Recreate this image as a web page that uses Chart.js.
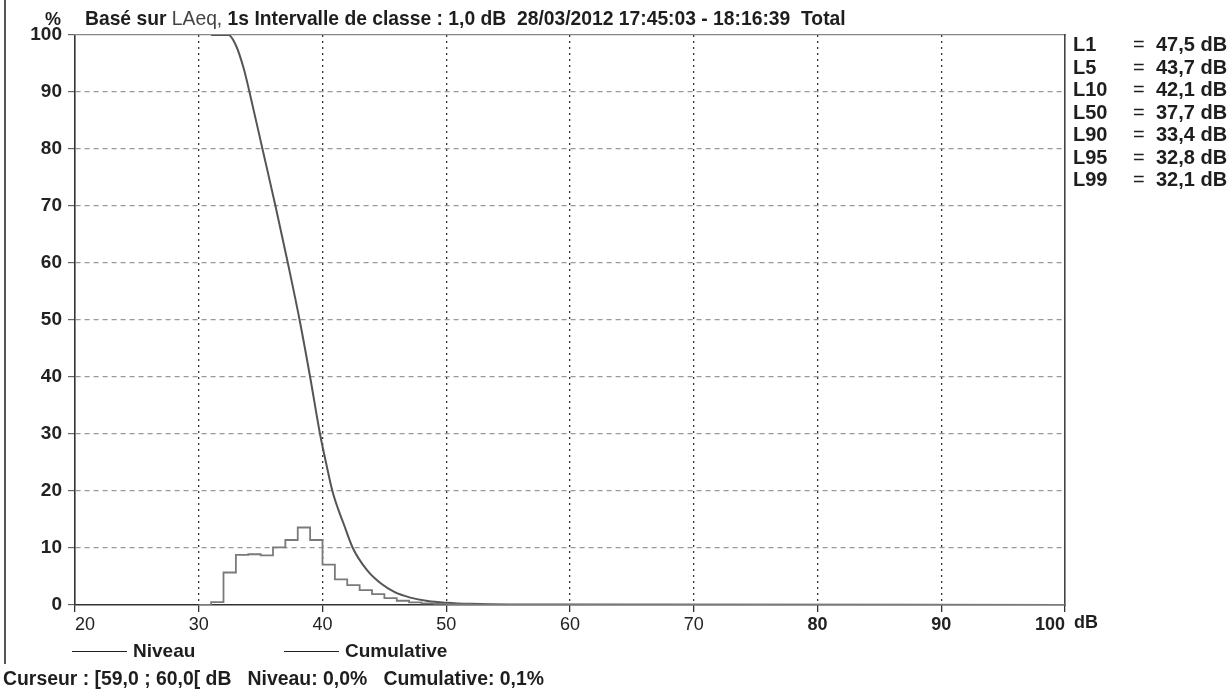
<!DOCTYPE html>
<html lang="fr">
<head>
<meta charset="utf-8">
<title>Distribution statistique LAeq</title>
<script src="https://cdn.jsdelivr.net/npm/chart.js@4.4.1/dist/chart.umd.min.js"></script>
<style>
  body { margin: 0; background: #fff; font-family: "Liberation Sans", Arial, sans-serif; }
  #cadre { position: relative; width: 1229px; height: 692px; overflow: hidden; background: #fff; }
  #grafica { position: absolute; left: 0; top: 0; }
  #bordeIzq { position: absolute; left: 4px; top: 0; width: 2px; height: 664px; background: #555; }
  .txt { position: absolute; white-space: nowrap; color: #1e1e1e; font-weight: bold; line-height: 1; }
  .fino { font-weight: normal; color: #444; }
  #pct { left: 45px; top: 10px; font-size: 18px; }
  #titulo { left: 85px; top: 9px; font-size: 19.3px; }
  #unidad { left: 1074px; top: 613px; font-size: 18px; }
  #cursor { left: 3px; top: 669px; font-size: 19.4px; }
  .fila { position: absolute; left: 0; height: 22px; font-size: 20px; font-weight: bold; color: #1e1e1e; line-height: 22px; }
  .fila span { position: absolute; top: 0; white-space: nowrap; }
  .ley { position: absolute; top: 641px; font-size: 19px; font-weight: bold; color: #1e1e1e; white-space: nowrap; line-height: 19px; }
  .ley i { display: inline-block; width: 55px; height: 0; border-top: 1.5px solid #222; vertical-align: middle; margin-right: 6px; }
</style>
</head>
<body>
<div id="cadre">
  <canvas id="grafica" width="1229" height="692"></canvas>
  <div id="bordeIzq"></div>
  <div class="txt" id="pct">%</div>
  <div class="txt" id="titulo">Basé sur <span class="fino">LAeq,</span> 1s Intervalle de classe : 1,0 dB&nbsp; 28/03/2012 17:45:03 - 18:16:39&nbsp; Total</div>
  <div id="estadisticas"></div>
  <div class="txt" id="unidad">dB</div>
  <div id="leyenda"></div>
  <div class="txt" id="cursor">Curseur : [59,0 ; 60,0[ dB&nbsp;&nbsp; Niveau: 0,0%&nbsp;&nbsp; Cumulative: 0,1%</div>
</div>
<script>
// Datos
const series = ['Niveau', 'Cumulative'];

// Histograma por clase de 1 dB (inicio de clase, %)
const clases = [30, 31, 32, 33, 34, 35, 36, 37, 38, 39, 40, 41, 42, 43, 44, 45, 46, 47, 48, 49, 50, 51, 52, 53, 100];
const niveau = [0, 0.5, 5.7, 8.8, 8.9, 8.7, 10.1, 11.4, 13.6, 11.4, 7.1, 4.5, 3.5, 2.6, 1.9, 1.2, 0.75, 0.45, 0.3, 0.2, 0.1, 0.1, 0.05, 0, 0];

// Curva acumulada (dB, %)
const dbCumul = [31, 32.4, 33, 33.65, 34.1, 35.15, 36.2, 37.2, 38.15, 39.0, 39.8, 40.3, 40.8, 41.25, 41.7, 42.45, 43.6, 44.7, 45.8, 47.1, 48.5, 50, 52, 55, 60, 100];
const pctCumul = [100, 100, 98.2, 94, 90, 80, 70, 60, 50, 40, 30, 24.8, 20, 16.9, 14.3, 10, 6.1, 3.8, 2.3, 1.3, 0.7, 0.4, 0.2, 0.1, 0.1, 0];

// Indices statistiques
const indicesL = ['L1', 'L5', 'L10', 'L50', 'L90', 'L95', 'L99'];
const valoresL = [47.5, 43.7, 42.1, 37.7, 33.4, 32.8, 32.1];

const ticksX = [20, 30, 40, 50, 60, 70, 80, 90, 100];
const ticksY = [0, 10, 20, 30, 40, 50, 60, 70, 80, 90, 100];

let grafica = null;

// Tabla de índices a la derecha
function crearEstadisticas() {
    const cont = document.getElementById('estadisticas');
    indicesL.forEach((nombre, i) => {
        const fila = document.createElement('div');
        fila.className = 'fila';
        fila.style.top = (33 + i * 22.5) + 'px';
        const valor = valoresL[i].toFixed(1).replace('.', ',') + ' dB';
        fila.innerHTML = `<span style="left:1073px">${nombre}</span>` +
            `<span style="left:1133px;font-weight:normal">=</span>` +
            `<span style="left:1156px">${valor}</span>`;
        cont.appendChild(fila);
    });
}

// Leyenda inferior
function crearLeyenda() {
    const cont = document.getElementById('leyenda');
    const posiciones = [72, 284];
    series.forEach((nombre, i) => {
        const el = document.createElement('div');
        el.className = 'ley';
        el.style.left = posiciones[i] + 'px';
        el.innerHTML = `<i></i>${nombre}`;
        cont.appendChild(el);
    });
}

// Crear la gráfica
function crearGrafica() {
    const ctx = document.getElementById('grafica').getContext('2d');

    if (grafica) {
        grafica.destroy();
    }

    grafica = new Chart(ctx, {
        type: 'line',
        data: {
            datasets: [{
                label: series[0],
                data: clases.map((c, i) => ({ x: c, y: niveau[i] })),
                stepped: 'before',
                borderColor: '#7a7a7a',
                borderWidth: 1.8,
                pointRadius: 0,
                fill: false
            }, {
                label: series[1],
                data: dbCumul.map((d, i) => ({ x: d, y: pctCumul[i] })),
                cubicInterpolationMode: 'monotone',
                borderColor: '#555',
                borderWidth: 2,
                pointRadius: 0,
                fill: false
            }]
        },
        options: {
            responsive: false,
            animation: false,
            layout: {
                padding: { left: 10, top: 35, right: 164, bottom: 57 }
            },
            plugins: {
                legend: { display: false },
                tooltip: { enabled: false }
            },
            scales: {
                x: {
                    type: 'linear',
                    min: 20,
                    max: 100,
                    afterBuildTicks: s => { s.ticks = ticksX.map(v => ({ value: v })); },
                    afterFit: s => { s.height = 30; },
                    ticks: {
                        align: 'inner',
                        padding: 2,
                        color: '#222',
                        font: c => ({ size: 18, weight: c.tick && c.tick.value >= 80 ? 'bold' : 'normal' })
                    },
                    grid: {
                        color: c => (c.tick && (c.tick.value === 20 || c.tick.value === 100)) ? 'rgba(0,0,0,0)' : '#333',
                        tickColor: '#333',
                        tickLength: 7,
                        lineWidth: 1.3
                    },
                    border: { color: '#333', width: 1.6, dash: [2, 4] }
                },
                y: {
                    min: 0,
                    max: 100,
                    afterBuildTicks: s => { s.ticks = ticksY.map(v => ({ value: v })); },
                    afterFit: s => { s.width = 65; },
                    ticks: {
                        padding: 6,
                        color: '#222',
                        font: { size: 19, weight: 'bold' }
                    },
                    grid: {
                        color: c => (c.tick && (c.tick.value === 0 || c.tick.value === 100)) ? 'rgba(0,0,0,0)' : '#999',
                        tickColor: '#666',
                        tickLength: 7,
                        lineWidth: 1.2
                    },
                    border: { color: '#333', width: 1.6, dash: [5, 4] }
                },
                x2: {
                    type: 'linear',
                    position: 'top',
                    min: 20,
                    max: 100,
                    afterFit: s => { s.height = 0; },
                    ticks: { display: false },
                    grid: { display: false },
                    border: { color: '#888', width: 1.3 }
                },
                y2: {
                    position: 'right',
                    min: 0,
                    max: 100,
                    afterFit: s => { s.width = 0; },
                    ticks: { display: false },
                    grid: { display: false },
                    border: { color: '#444', width: 1.6 }
                }
            }
        }
    });
}

crearEstadisticas();
crearLeyenda();
crearGrafica();
</script>
</body>
</html>
